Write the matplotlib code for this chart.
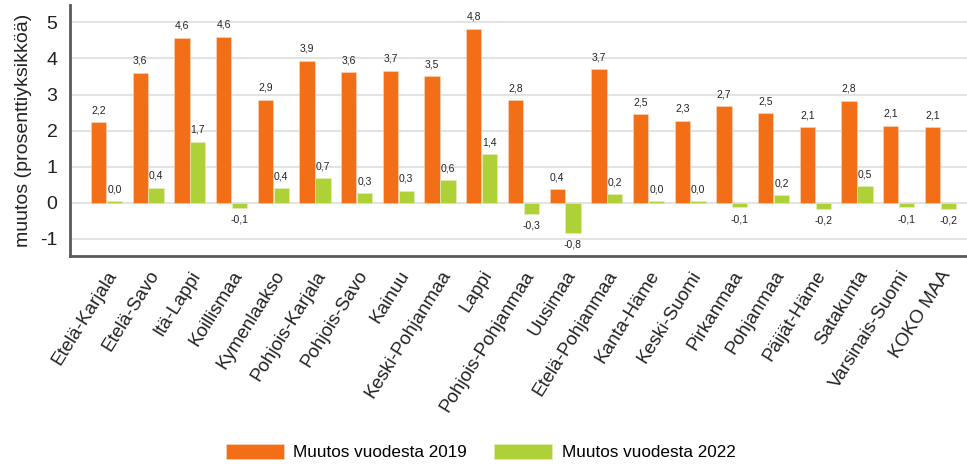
import numpy as np
import matplotlib.pyplot as plt

plt.rcParams['font.family'] = ['Liberation Sans', 'DejaVu Sans']
plt.rcParams['axes.unicode_minus'] = False

alueet = ['Etelä-Karjala', 'Etelä-Savo', 'Itä-Lappi', 'Koillismaa', 'Kymenlaakso',
          'Pohjois-Karjala', 'Pohjois-Savo', 'Kainuu', 'Keski-Pohjanmaa', 'Lappi',
          'Pohjois-Pohjanmaa', 'Uusimaa', 'Etelä-Pohjanmaa', 'Kanta-Häme', 'Keski-Suomi',
          'Pirkanmaa', 'Pohjanmaa', 'Päijät-Häme', 'Satakunta', 'Varsinais-Suomi', 'KOKO MAA']
muutos_2019 = [2.24, 3.61, 4.58, 4.60, 2.86, 3.94, 3.62, 3.66, 3.51, 4.83, 2.84,
               0.38, 3.70, 2.46, 2.28, 2.67, 2.49, 2.10, 2.83, 2.13, 2.09]
muutos_2022 = [0.04, 0.42, 1.69, -0.14, 0.41, 0.68, 0.27, 0.33, 0.63, 1.35, -0.31,
               -0.84, 0.23, 0.045, 0.04, -0.13, 0.21, -0.17, 0.46, -0.13, -0.17]
sarjat = ['Muutos vuodesta 2019', 'Muutos vuodesta 2022']

oranssi = '#F26F17'
vihrea = '#ADD136'
teksti = '#222222'

fig = plt.figure(figsize=(9.67, 4.65), dpi=100)
ax = fig.add_axes([0.0724, 0.4484, 0.9276, 0.5406])

x = np.arange(len(alueet))
w = 0.367
b1 = ax.bar(x - 0.19, muutos_2019, w, color=oranssi, edgecolor='#fbd9c0', linewidth=0.4,
            label=sarjat[0], zorder=3)
b2 = ax.bar(x + 0.19, muutos_2022, w, color=vihrea, edgecolor='#e6f0c0', linewidth=0.4,
            label=sarjat[1], zorder=3)

def arvot(palkit, arvo):
    for p, v in zip(palkit, arvo):
        teksti_arvo = f'{v:.1f}'.replace('.', ',')
        if teksti_arvo == '-0,0':
            teksti_arvo = '0,0'
        cx = p.get_x() + p.get_width() / 2
        if v >= 0:
            ax.annotate(teksti_arvo, (cx, v), xytext=(0, 5), textcoords='offset points',
                        ha='center', va='bottom', fontsize=7.5, color=teksti)
        else:
            ax.annotate(teksti_arvo, (cx, v), xytext=(0, -5), textcoords='offset points',
                        ha='center', va='top', fontsize=7.5, color=teksti)

arvot(b1, muutos_2019)
arvot(b2, muutos_2022)

ax.set_xlim(-0.875, 20.64)
ax.set_ylim(-1.49, 5.48)
ax.set_yticks(range(-1, 6))
ax.yaxis.grid(True, color='#e3e3e3', linewidth=1.5, zorder=0)
ax.set_axisbelow(True)

ax.set_xticks(x)
ax.set_xticklabels(alueet, rotation=58, ha='right', rotation_mode='anchor',
                   fontsize=13.5, color=teksti)
ax.tick_params(axis='x', length=0, pad=8)
ax.tick_params(axis='y', length=0, pad=9, labelsize=14, labelcolor=teksti)
ax.set_ylabel('muutos (prosenttiyksikköä)', fontsize=14, color=teksti, labelpad=6)

for s in ['top', 'right']:
    ax.spines[s].set_visible(False)
for s in ['left', 'bottom']:
    ax.spines[s].set_color('#5a5a5a')
    ax.spines[s].set_linewidth(2)

fig.legend(handles=[b1, b2], labels=sarjat, loc='center', bbox_to_anchor=(0.497, 0.028),
           ncol=2, frameon=False, fontsize=12.3, handlelength=3.4, handleheight=1.0,
           handletextpad=0.55, columnspacing=1.6, borderpad=0)

fig.savefig('out.png', dpi=100)
